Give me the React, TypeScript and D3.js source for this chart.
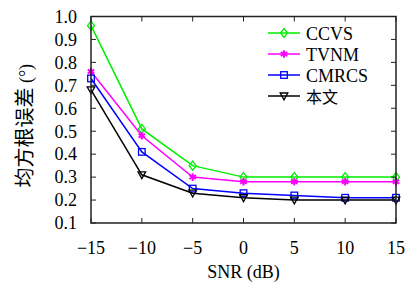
import React, { useEffect, useRef } from "react";
import * as d3 from "d3";

const snr = [-15, -10, -5, 0, 5, 10, 15];
const ccvs = [0.96, 0.51, 0.35, 0.3, 0.3, 0.3, 0.3];
const tvnm = [0.76, 0.48, 0.3, 0.28, 0.28, 0.28, 0.28];
const cmrcs = [0.73, 0.41, 0.25, 0.23, 0.22, 0.21, 0.21];
const ours = [0.68, 0.31, 0.23, 0.21, 0.2, 0.2, 0.2];
const yTicks = [0.1, 0.2, 0.3, 0.4, 0.5, 0.6, 0.7, 0.8, 0.9, 1.0];
const seriesNames = ["CCVS", "TVNM", "CMRCS", "本文"];

const serif = "'Liberation Serif', 'DejaVu Serif', serif";
const cjk = "'Noto Sans CJK SC', sans-serif";

const App = () => {
  const svgRef = useRef<SVGSVGElement | null>(null);

  useEffect(() => {
    const width = 408;
    const height = 291;
    const margin = { top: 16.5, right: 12, bottom: 68, left: 91 };

    const svg = d3.select(svgRef.current).attr("width", width).attr("height", height);
    svg.selectAll("*").remove();

    const x = d3.scaleLinear().domain([-15, 15]).range([margin.left, width - margin.right]);
    const y = d3.scaleLinear().domain([0.1, 1.0]).range([height - margin.bottom, margin.top]);

    const series = [
      { name: seriesNames[0], values: ccvs, color: "#00ee00", marker: "diamond" },
      { name: seriesNames[1], values: tvnm, color: "#ff00ff", marker: "star" },
      { name: seriesNames[2], values: cmrcs, color: "#0000ff", marker: "square" },
      { name: seriesNames[3], values: ours, color: "#000000", marker: "triangle" },
    ];

    const drawMarker = (g: any, kind: string, cx: number, cy: number, color: string) => {
      if (kind === "diamond") {
        g.append("path")
          .attr("d", `M${cx},${cy - 4.5}L${cx + 3.5},${cy}L${cx},${cy + 4.5}L${cx - 3.5},${cy}Z`)
          .attr("fill", "none").attr("stroke", color).attr("stroke-width", 1.3);
      } else if (kind === "square") {
        g.append("rect")
          .attr("x", cx - 3.3).attr("y", cy - 3.3).attr("width", 6.6).attr("height", 6.6)
          .attr("fill", "none").attr("stroke", color).attr("stroke-width", 1.3);
      } else if (kind === "triangle") {
        g.append("path")
          .attr("d", `M${cx - 3.8},${cy - 3}L${cx + 3.8},${cy - 3}L${cx},${cy + 3.8}Z`)
          .attr("fill", "none").attr("stroke", color).attr("stroke-width", 1.3);
      } else {
        g.append("path")
          .attr("d", d3.symbol(d3.symbolAsterisk, 40)())
          .attr("transform", `translate(${cx},${cy})`)
          .attr("fill", "none").attr("stroke", color).attr("stroke-width", 2);
      }
    };

    const line = d3.line<number>()
      .x((_, i) => x(snr[i]))
      .y((d) => y(d));

    // series
    series.forEach((s) => {
      svg.append("path")
        .attr("d", line(s.values))
        .attr("fill", "none")
        .attr("stroke", s.color)
        .attr("stroke-width", 1.5);
      const g = svg.append("g");
      s.values.forEach((v, i) => drawMarker(g, s.marker, x(snr[i]), y(v), s.color));
    });

    // frame
    const [x0, x1] = x.range();
    const [y0, y1] = y.range();
    svg.append("rect")
      .attr("x", x0).attr("y", y1).attr("width", x1 - x0).attr("height", y0 - y1)
      .attr("fill", "none").attr("stroke", "#222").attr("stroke-width", 1.5);

    // inward ticks
    const tl = 5;
    snr.forEach((t) => {
      svg.append("line").attr("x1", x(t)).attr("x2", x(t)).attr("y1", y0).attr("y2", y0 - tl)
        .attr("stroke", "#222").attr("stroke-width", 1);
      svg.append("line").attr("x1", x(t)).attr("x2", x(t)).attr("y1", y1).attr("y2", y1 + tl)
        .attr("stroke", "#222").attr("stroke-width", 1);
      svg.append("text")
        .attr("x", x(t)).attr("y", y0 + 31)
        .attr("text-anchor", "middle")
        .attr("font-family", serif).attr("font-size", 18)
        .text(t < 0 ? `\u2212${Math.abs(t)}` : `${t}`);
    });
    yTicks.forEach((t) => {
      svg.append("line").attr("x1", x0).attr("x2", x0 + tl).attr("y1", y(t)).attr("y2", y(t))
        .attr("stroke", "#222").attr("stroke-width", 1);
      svg.append("line").attr("x1", x1).attr("x2", x1 - tl).attr("y1", y(t)).attr("y2", y(t))
        .attr("stroke", "#222").attr("stroke-width", 1);
      svg.append("text")
        .attr("x", x0 - 14).attr("y", y(t) + 6.3)
        .attr("text-anchor", "end")
        .attr("font-family", serif).attr("font-size", 18)
        .text(t.toFixed(1));
    });

    // axis titles
    svg.append("text")
      .attr("x", (x0 + x1) / 2).attr("y", 278)
      .attr("text-anchor", "middle")
      .attr("font-family", serif).attr("font-size", 18)
      .text("SNR (dB)");

    const yl = svg.append("text")
      .attr("transform", `translate(32,${(y0 + y1) / 2 + 6}) rotate(-90)`)
      .attr("text-anchor", "middle")
      .attr("font-size", 20);
    yl.append("tspan").attr("font-family", cjk).text("均方根误差");
    yl.append("tspan").attr("font-family", serif).attr("font-size", 18).text(" (°)");

    // legend
    series.forEach((s, i) => {
      const ly = 33 + i * 21;
      svg.append("line").attr("x1", 268).attr("x2", 300).attr("y1", ly).attr("y2", ly)
        .attr("stroke", s.color).attr("stroke-width", 1.5);
      drawMarker(svg.append("g"), s.marker, 284, ly, s.color);
      svg.append("text")
        .attr("x", 306).attr("y", ly + 6.5)
        .attr("font-family", i === 3 ? cjk : serif)
        .attr("font-size", i === 3 ? 16 : 18)
        .text(s.name);
    });
  }, []);

  return (
    <div>
      <svg ref={svgRef} style={{ position: "absolute", left: 0, top: 0, background: "#fff" }}></svg>
    </div>
  );
};

export default App;
